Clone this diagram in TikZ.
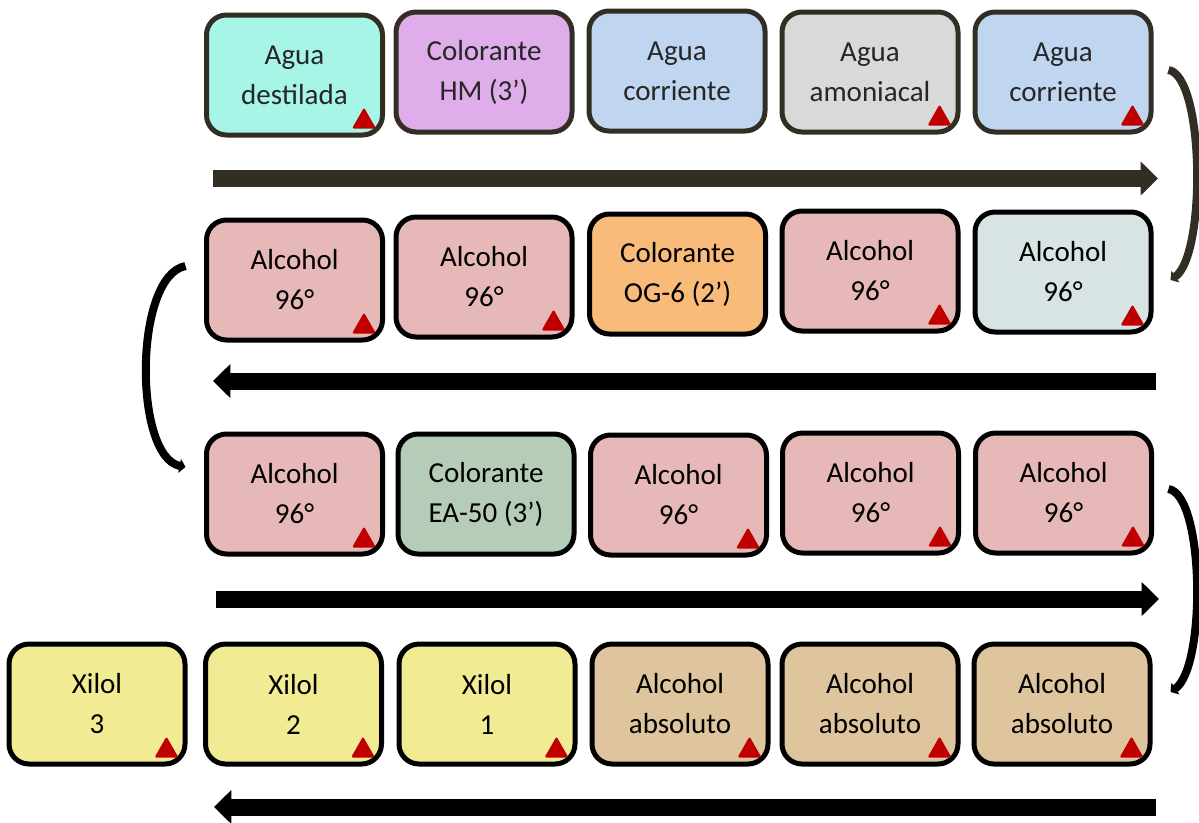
\documentclass[tikz,border=0pt]{standalone}
\usepackage{fontspec}
\setmainfont{Carlito}
\usetikzlibrary{arrows.meta,calc}
\definecolor{dk}{HTML}{332E24}
\definecolor{mint}{HTML}{A7F5E6}
\definecolor{lilac}{HTML}{DFAEEA}
\definecolor{lblue}{HTML}{C0D6F0}
\definecolor{lgray}{HTML}{D9D9D9}
\definecolor{pink}{HTML}{E6B8B7}
\definecolor{orng}{HTML}{F9BB7A}
\definecolor{lteal}{HTML}{D7E4E3}
\definecolor{sage}{HTML}{B5CCB8}
\definecolor{yell}{HTML}{F1EB93}
\definecolor{tan}{HTML}{DFC59E}
\definecolor{redm}{HTML}{C00000}
\newcommand\redmark[1]{\fill[tri] ($(#1.south east)+(-9,-9)$) -- ++(-24,0) -- ++(12,-21) -- cycle;}
\begin{document}
\begin{tikzpicture}[x=0.75pt,y=-0.75pt,
  box/.style={draw=black, line width=3.75pt, rounded corners=15pt, minimum width=132pt, minimum height=90pt, align=center, inner sep=0pt, font=\fontsize{21.75}{30}\selectfont},
  boxdk/.style={box, draw=dk, text=black!85},
  tri/.style={fill=redm, rounded corners=1.5pt},
  bigarrow/.style={line width=12.75pt, -{Triangle[width=24.75pt,length=13pt]}},
  conn/.style={line width=6pt, -{Triangle[width=10.5pt,length=4.5pt]}}]
\useasboundingbox (0,0) rectangle (1199,822);
% row 1
\node[boxdk, fill=mint]  (r1c1) at (294.5,75) {Agua\\destilada};
\node[boxdk, fill=lilac] (r1c2) at (484,72) {Colorante\\HM (3’)};
\node[boxdk, fill=lblue] (r1c3) at (677,71) {Agua\\corriente};
\node[boxdk, fill=lgray] (r1c4) at (870,72) {Agua\\amoniacal};
\node[boxdk, fill=lblue] (r1c5) at (1063,72) {Agua\\corriente};
% row 2
\node[box, fill=pink]  (r2c1) at (294.5,280) {Alcohol\\96°};
\node[box, fill=pink]  (r2c2) at (484,277) {Alcohol\\96°};
\node[box, fill=orng]  (r2c3) at (677.5,274) {Colorante\\OG-6 (2’)};
\node[box, fill=pink]  (r2c4) at (870,271) {Alcohol\\96°};
\node[box, fill=lteal] (r2c5) at (1063,272) {Alcohol\\96°};
% row 3
\node[box, fill=pink] (r3c1) at (294.5,494) {Alcohol\\96°};
\node[box, fill=sage] (r3c2) at (486,494) {Colorante\\EA-50 (3’)};
\node[box, fill=pink] (r3c3) at (678.5,495) {Alcohol\\96°};
\node[box, fill=pink] (r3c4) at (870.5,493) {Alcohol\\96°};
\node[box, fill=pink] (r3c5) at (1063.5,493) {Alcohol\\96°};
% row 4
\node[box, fill=yell] (r4c1) at (97,704) {Xilol\\3};
\node[box, fill=yell] (r4c2) at (293.5,704) {Xilol\\2};
\node[box, fill=yell] (r4c3) at (487,704) {Xilol\\1};
\node[box, fill=tan]  (r4c4) at (680,704) {Alcohol\\absoluto};
\node[box, fill=tan]  (r4c5) at (870,704) {Alcohol\\absoluto};
\node[box, fill=tan]  (r4c6) at (1062,704) {Alcohol\\absoluto};
% red marks
\foreach \n in {r1c1,r1c4,r1c5,r2c1,r2c2,r2c4,r2c5,r3c1,r3c3,r3c4,r3c5,r4c1,r4c2,r4c3,r4c4,r4c5,r4c6}{\redmark{\n}}
% straight arrows
\coordinate (a1s) at (213,178.5);  \coordinate (a1e) at (1158,178.5);
\coordinate (a2s) at (1156,381);   \coordinate (a2e) at (213,381);
\coordinate (a3s) at (216,599);    \coordinate (a3e) at (1159,599);
\coordinate (a4s) at (1156,807);   \coordinate (a4e) at (214,807);
\draw[bigarrow, draw=dk] (a1s) -- (a1e);
\draw[bigarrow] (a2s) -- (a2e);
\draw[bigarrow] (a3s) -- (a3e);
\draw[bigarrow] (a4s) -- (a4e);
% curved connectors
\draw[conn, draw=dk] ($(r1c5.east)+(15,-2)$) .. controls +(36,6) and +(36,-25) .. ($(r2c5.east)+(17,8)$);
\draw[conn] ($(r2c1.west)+(-18.5,-14)$) .. controls +(-52,10) and +(-52,-10) .. ($(r3c1.west)+(-18.5,-27)$);
\draw[conn] ($(r3c5.east)+(14.5,-4)$) .. controls +(36,6) and +(36,-25) .. ($(r4c6.east)+(18,-12)$);
\end{tikzpicture}
\end{document}
